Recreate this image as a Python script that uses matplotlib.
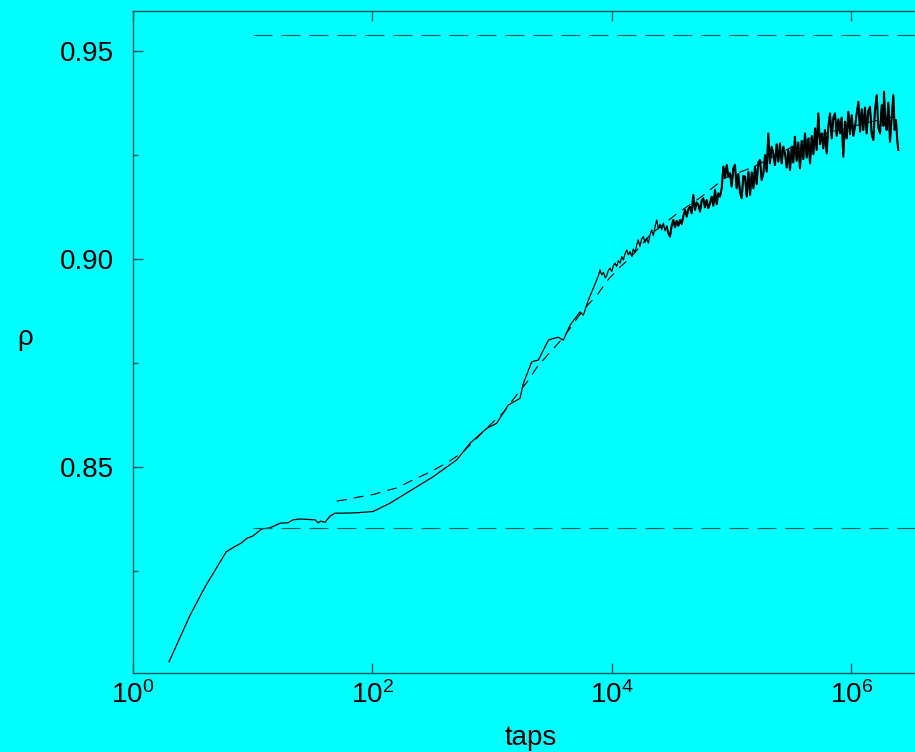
import numpy as np
import matplotlib
matplotlib.use("Agg")
import matplotlib.pyplot as plt
from matplotlib.ticker import FixedLocator, FixedFormatter, NullLocator

plt.rcParams['font.family'] = ['Liberation Sans', 'DejaVu Sans']
plt.rcParams['mathtext.fontset'] = 'custom'
plt.rcParams['mathtext.rm'] = 'Liberation Sans'
plt.rcParams['mathtext.it'] = 'Liberation Sans:italic'
plt.rcParams['mathtext.bf'] = 'Liberation Sans:bold'

# packing fraction vs. number of taps (log10 of taps)
log_taps = [
    0.301, 0.477, 0.602, 0.778, 0.845, 0.903, 0.954, 1.000, 1.075, 1.146,
    1.230, 1.295, 1.337, 1.395, 1.462, 1.520, 1.546, 1.568, 1.604, 1.646,
    1.688, 1.754, 1.869, 2.005, 2.147, 2.328, 2.509, 2.704, 2.815, 2.955,
    3.038, 3.135, 3.233, 3.261, 3.331, 3.386, 3.428, 3.470, 3.511, 3.553,
    3.595, 3.651, 3.734, 3.762, 3.804,
    3.874, 3.890, 3.901, 3.915, 3.930, 3.945, 3.957, 3.970, 3.985, 4.000,
    4.013, 4.027, 4.040, 4.055, 4.070, 4.083, 4.097, 4.110, 4.124, 4.138,
    4.152, 4.166, 4.180, 4.195, 4.208, 4.221, 4.235, 4.249, 4.263, 4.277,
    4.291, 4.305, 4.319, 4.333, 4.347, 4.361, 4.375, 4.389, 4.403, 4.417,
    4.431, 4.445, 4.459, 4.472, 4.486, 4.500, 4.514, 4.528, 4.542, 4.556,
    4.570, 4.584, 4.598, 4.612, 4.626, 4.640, 4.653, 4.667, 4.681, 4.695,
    4.709, 4.723, 4.737, 4.751, 4.764, 4.778, 4.792, 4.806, 4.820, 4.834,
    4.848, 4.862, 4.876, 4.890, 4.904, 4.918, 4.932, 4.946, 4.960, 4.974,
    4.987, 5.001, 5.015, 5.029, 5.043, 5.057, 5.071, 5.085, 5.099, 5.113,
    5.127, 5.141, 5.155, 5.169, 5.183, 5.196, 5.210, 5.224, 5.238, 5.252,
    5.266, 5.280, 5.294, 5.307, 5.321, 5.335, 5.349, 5.363, 5.377, 5.391,
    5.405, 5.419, 5.433, 5.447, 5.461, 5.475, 5.489, 5.503, 5.516, 5.530,
    5.544, 5.558, 5.572, 5.586, 5.600, 5.614, 5.628, 5.642, 5.656, 5.670,
    5.684, 5.698, 5.711, 5.725, 5.739, 5.754, 5.767, 5.781, 5.795, 5.809,
    5.823, 5.837, 5.851, 5.865, 5.879, 5.893, 5.907, 5.920, 5.934, 5.948,
    5.962, 5.976, 5.990, 6.004, 6.018, 6.032, 6.046, 6.060, 6.074, 6.088,
    6.101, 6.115, 6.129, 6.143, 6.157, 6.171, 6.185, 6.199, 6.213, 6.227,
    6.241, 6.255, 6.269, 6.274, 6.285, 6.296, 6.310, 6.324, 6.338, 6.352,
    6.363, 6.374, 6.384, 6.393,
]
rho = [
    0.8032, 0.8144, 0.8212, 0.8296, 0.8308, 0.8317, 0.8329, 0.8334, 0.8351, 0.8354,
    0.8365, 0.8366, 0.8373, 0.8375, 0.8374, 0.8373, 0.8366, 0.8370, 0.8367, 0.8382,
    0.8389, 0.8389, 0.8390, 0.8393, 0.8413, 0.8445, 0.8477, 0.8517, 0.8557, 0.8593,
    0.8605, 0.8649, 0.8665, 0.8701, 0.8753, 0.8757, 0.8781, 0.8805, 0.8809, 0.8812,
    0.8805, 0.8841, 0.8873, 0.8865, 0.8901,
    0.8950, 0.8962, 0.8974, 0.8962, 0.8968, 0.8955, 0.8960, 0.8972, 0.8978, 0.8970,
    0.8984, 0.8990, 0.8982, 0.8996, 0.8990, 0.9006, 0.8998, 0.9012, 0.9022, 0.9010,
    0.9018, 0.9006, 0.9024, 0.9016, 0.9034, 0.9046, 0.9030, 0.9048, 0.9054, 0.9040,
    0.9050, 0.9038, 0.9058, 0.9070, 0.9056, 0.9078, 0.9094, 0.9072, 0.9084, 0.9070,
    0.9086, 0.9068, 0.9078, 0.9062, 0.9054, 0.9080, 0.9094, 0.9076, 0.9092, 0.9080,
    0.9094, 0.9084, 0.9104, 0.9118, 0.9102, 0.9120, 0.9126, 0.9110, 0.9154, 0.9118,
    0.9136, 0.9130, 0.9114, 0.9140, 0.9146, 0.9124, 0.9142, 0.9122, 0.9134, 0.9150,
    0.9128, 0.9166, 0.9132, 0.9158, 0.9150, 0.9170, 0.9222, 0.9196, 0.9226, 0.9198,
    0.9206, 0.9174, 0.9218, 0.9226, 0.9170, 0.9204, 0.9160, 0.9146, 0.9200, 0.9198,
    0.9150, 0.9210, 0.9154, 0.9208, 0.9170, 0.9222, 0.9180, 0.9232, 0.9238, 0.9190,
    0.9206, 0.9250, 0.9210, 0.9302, 0.9230, 0.9270, 0.9254, 0.9226, 0.9276, 0.9234,
    0.9278, 0.9230, 0.9270, 0.9254, 0.9220, 0.9262, 0.9214, 0.9270, 0.9232, 0.9294,
    0.9236, 0.9280, 0.9218, 0.9284, 0.9240, 0.9302, 0.9244, 0.9290, 0.9230, 0.9296,
    0.9252, 0.9314, 0.9262, 0.9350, 0.9276, 0.9302, 0.9266, 0.9310, 0.9254, 0.9318,
    0.9350, 0.9290, 0.9340, 0.9350, 0.9296, 0.9336, 0.9302, 0.9340, 0.9246, 0.9330,
    0.9290, 0.9354, 0.9300, 0.9346, 0.9296, 0.9318, 0.9350, 0.9378, 0.9306, 0.9360,
    0.9310, 0.9364, 0.9302, 0.9356, 0.9366, 0.9300, 0.9286, 0.9360, 0.9394, 0.9316,
    0.9302, 0.9370, 0.9320, 0.9402, 0.9330, 0.9310, 0.9376, 0.9282, 0.9340, 0.9394,
    0.9310, 0.9334, 0.9290, 0.9262,
]

# fitted relaxation curve
fit_log_taps = [
    1.702, 1.785, 1.869, 2.008, 2.091, 2.206, 2.339, 2.481, 2.623, 2.757,
    2.982, 3.091, 3.191, 3.291, 3.375, 3.484, 3.592, 3.759, 3.876, 3.968,
    4.069, 4.152, 4.319, 4.553, 4.745, 4.946, 5.180, 5.489, 5.681, 5.948,
    6.199, 6.391,
]
fit_rho = [
    0.8418, 0.8422, 0.8427, 0.8434, 0.8441, 0.8450, 0.8469, 0.8488, 0.8510, 0.8536,
    0.8601, 0.8630, 0.8668, 0.8704, 0.8740, 0.8776, 0.8810, 0.8877, 0.8913, 0.8950,
    0.8981, 0.9002, 0.9058, 0.9111, 0.9149, 0.9195, 0.9221, 0.9267, 0.9293, 0.9315,
    0.9332, 0.9344,
]

# reference packing fractions
rho_low = 0.8353
rho_high = 0.9538
ref_start_taps = 10.0

x_ticks = [1e0, 1e2, 1e4, 1e6]
x_tick_labels = [r'$10^{0}$', r'$10^{2}$', r'$10^{4}$', r'$10^{6}$']
y_ticks = [0.85, 0.90, 0.95]
y_tick_labels = ['0.85', '0.90', '0.95']
y_minor_ticks = [0.825, 0.875, 0.925]

x_max = 10 ** 6.533
bg = '#00ffff'
frame = '#005a5a'

fig = plt.figure(figsize=(9.15, 7.52), dpi=100, facecolor=bg)
ax = fig.add_axes([0.1454, 0.10505, 0.8546, 0.8803], facecolor=bg)

taps = 10 ** np.array(log_taps)
rho_arr = np.array(rho)
fit_taps = 10 ** np.array(fit_log_taps)

ax.plot(taps, rho_arr, color='black', lw=0.9)
# the late-time fluctuations form a dense band; draw it a touch heavier
late = np.array(log_taps) >= 4.45
ax.plot(taps[late], rho_arr[late], color='black', lw=1.5)
ax.plot(fit_taps, fit_rho, color='black', lw=0.8, dashes=(9, 6.5))
ax.plot([ref_start_taps, x_max], [rho_low, rho_low], color=frame, lw=0.8, dashes=(17.1, 8.1))
ax.plot([ref_start_taps, x_max], [rho_high, rho_high], color=frame, lw=0.8, dashes=(17.1, 8.1))

ax.set_xscale('log')
ax.set_xlim(1, x_max)
ax.set_ylim(0.80048, 0.95962)

ax.xaxis.set_major_locator(FixedLocator(x_ticks))
ax.xaxis.set_major_formatter(FixedFormatter(x_tick_labels))
ax.xaxis.set_minor_locator(NullLocator())
ax.yaxis.set_major_locator(FixedLocator(y_ticks))
ax.yaxis.set_major_formatter(FixedFormatter(y_tick_labels))
ax.yaxis.set_minor_locator(FixedLocator(y_minor_ticks))

ax.tick_params(which='both', direction='in', colors=frame, labelcolor='black',
               labelsize=20, top=True, right=False, width=1.0)
ax.tick_params(which='major', length=7.2)
ax.tick_params(which='minor', length=3.6)
ax.tick_params(axis='y', pad=13.5)
ax.tick_params(axis='x', pad=6)

for side in ('left', 'bottom', 'top'):
    ax.spines[side].set_color(frame)
    ax.spines[side].set_linewidth(1.0)
ax.spines['right'].set_visible(False)

ax.set_xlabel('taps', fontsize=20)
ax.xaxis.set_label_coords(0.508, -0.098)
ax.xaxis.label.set_va('center')
ax.set_ylabel('ρ', fontsize=20, rotation=0)
ax.yaxis.set_label_coords(-0.138, 0.506)
ax.yaxis.label.set_va('center')
ax.yaxis.label.set_ha('center')

fig.savefig('out.png', dpi=100, facecolor=bg)
